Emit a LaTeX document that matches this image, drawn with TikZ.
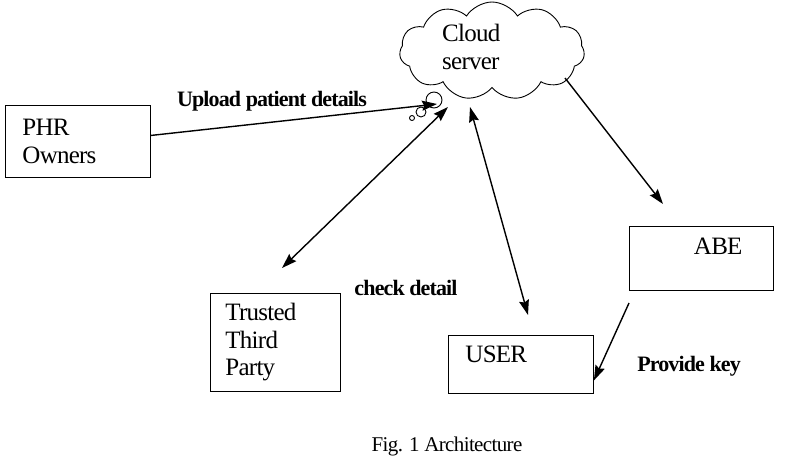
\documentclass[tikz,border=0pt]{standalone}
\usepackage{fontspec}
\setmainfont{Liberation Serif}
\usetikzlibrary{shapes.symbols,arrows.meta}
\begin{document}
\begin{tikzpicture}[x=1pt,y=-1pt,
  box/.style={draw, line width=0.9pt, rectangle, anchor=north west, align=left, inner ysep=0pt,
    font=\fontsize{25}{27.5}\selectfont\addfontfeature{LetterSpace=-3}},
  boxtxt/.style={font=\fontsize{25}{27.5}\selectfont\addfontfeature{LetterSpace=-3}, align=left, inner sep=0pt},
  lbl/.style={inner sep=0pt, font=\bfseries\fontsize{22}{24}\selectfont\addfontfeature{LetterSpace=-4}},
  arr/.style={line width=1.4pt, -{Stealth[length=15pt,width=10pt,inset=2pt]}},
  darr/.style={line width=1.4pt, {Stealth[length=15pt,width=10pt,inset=2pt]}-{Stealth[length=15pt,width=10pt,inset=2pt]}},
]
\useasboundingbox (0,0) rectangle (786,472);

% boxes
\node[box, minimum width=145pt, minimum height=72pt, text width=111pt, inner xsep=17pt] (phr) at (5,105) {PHR\\Owners};
\node[box, minimum width=130pt, minimum height=98pt, text width=100pt, inner xsep=15pt] (ttp) at (210,293) {Trusted\\Third\\Party};
\node[box, minimum width=145pt, minimum height=58pt, text width=111pt, inner xsep=17pt, text depth=21pt] (user) at (448,335) {USER};
\node[box, minimum width=144pt, minimum height=64pt, text width=82pt, inner xsep=31pt, align=right, text depth=25pt] (abe) at (629,226) {ABE};

% cloud
\node[draw, cloud, cloud puffs=11, cloud puff arc=115, aspect=1.9, minimum width=185pt, minimum height=98pt, line width=0.9pt] (cloud) at (492,51) {};
\node[boxtxt, anchor=north west] (cloudtxt) at (442,24) {Cloud\\server};
\draw[line width=0.9pt] (434,100) circle[radius=8pt];
\draw[line width=0.9pt] (421,112) circle[radius=5pt];
\draw[line width=0.9pt] (412,118) circle[radius=2.5pt];

% connector ends
\coordinate (upend) at (437,104);
\coordinate (ttpend) at (282,268);
\coordinate (ttpcl) at (448,107);
\coordinate (usrend) at (528,315);
\coordinate (usrcl) at (470,107);
\coordinate (clabe) at (565,78);
\coordinate (abetip) at (663,204);
\coordinate (abeout) at (629,303);

\draw[arr] ([yshift=6pt]phr.east) -- (upend);
\draw[darr] (ttpend) -- (ttpcl);
\draw[darr] (usrend) -- (usrcl);
\draw[arr] (clabe) -- (abetip);
\draw[arr] (abeout) -- ([yshift=-16pt]user.east);

% labels
\node[lbl] (lup) at (272,101) {Upload patient details};
\node[lbl] (lchk) at (406,288) {check detail};
\node[lbl] (lkey) at (689,366) {Provide key};
\node[boxtxt, font=\fontsize{21}{24}\selectfont\addfontfeature{LetterSpace=-3}] (cap) at (447,446) {Fig. 1 Architecture};
\end{tikzpicture}
\end{document}
